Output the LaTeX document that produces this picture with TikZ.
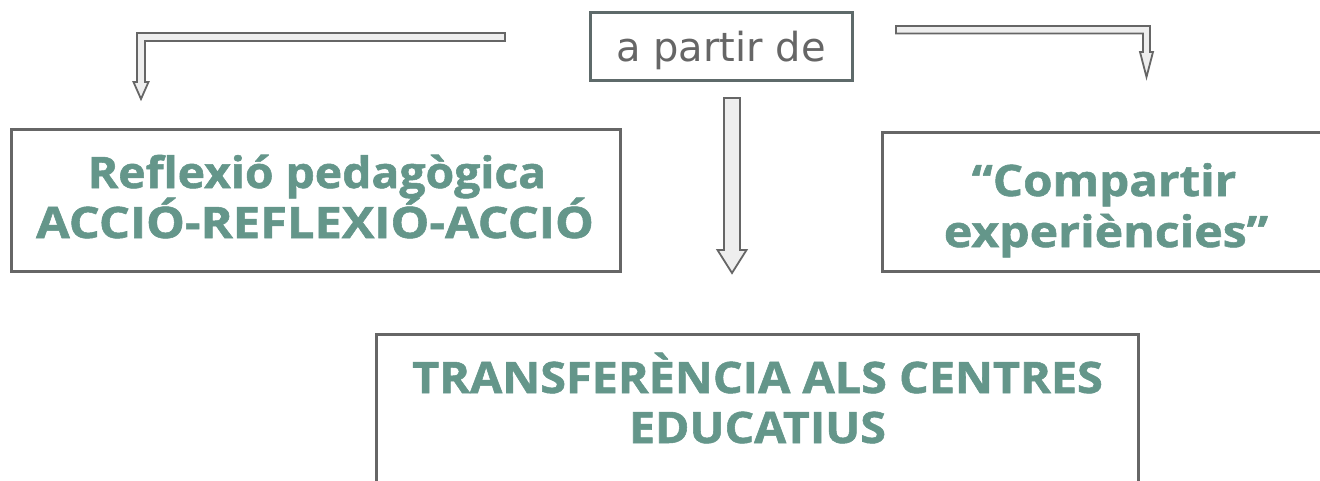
\documentclass[tikz,border=0pt]{standalone}
\usepackage{fontspec}
\newfontfamily\greenfont{Open Sans}[BoldFeatures={FakeBold=1.2}]
\newfontfamily\grayfont{DejaVu Sans}
\definecolor{boxgreen}{HTML}{64968A}
\definecolor{framegray}{HTML}{666666}
\definecolor{darkframe}{HTML}{5E6A6A}
\definecolor{labelgray}{HTML}{666666}
\definecolor{arrowgray}{HTML}{666666}
\definecolor{arrowfill}{HTML}{EEEEEE}
\newcommand{\wideline}[2]{\scalebox{#1}[1]{#2}}
\begin{document}
\begin{tikzpicture}[x=1pt,y=-1pt,
  frame/.style={draw=framegray, line width=3pt, fill=white, rectangle, inner sep=0pt},
  topframe/.style={draw=darkframe, line width=3pt, fill=white, rectangle, inner sep=0pt},
  gtext/.style={text=boxgreen, font=\greenfont\bfseries\fontsize{43.4}{50}\selectfont, inner sep=0pt, anchor=base},
  graytext/.style={text=labelgray, font=\grayfont\fontsize{40}{48}\selectfont, inner sep=0pt, anchor=base},
  blockarrow/.style={draw=arrowgray, fill=arrowfill, line width=1.8pt, line join=miter}]
\useasboundingbox (0,0) rectangle (1320,480);
\clip (0,0) rectangle (1320,480);
% boxes
\node[frame, minimum width=609pt, minimum height=142pt] (reflexio) at (315.5,200) {};
\node[frame, minimum width=448pt, minimum height=139pt] (compartir) at (1106,201.5) {};
\node[frame, minimum width=762pt, minimum height=226pt] (transf) at (757,447) {};
\node[topframe, minimum width=262pt, minimum height=68pt] (apartir) at (721,46) {};
% texts
\node[graytext] (aptext) at (721,61) {a partir de};
\node[gtext] (r1) at (317,188) {\wideline{1.066}{Reflexió pedagògica}};
\node[gtext] (r2) at (315,238) {\wideline{1.124}{ACCIÓ-REFLEXIÓ-ACCIÓ}};
\node[gtext] (c1) at (1104,196) {\wideline{1.095}{“Compartir}};
\node[gtext] (c2) at (1106,247) {\wideline{1.11}{experiències”}};
\node[gtext] (t1) at (757.5,393) {\wideline{1.077}{TRANSFERÈNCIA ALS CENTRES}};
\node[gtext] (t2) at (757.5,443) {\wideline{1.07}{EDUCATIUS}};
% block arrows
\draw[blockarrow] (724,98) -- (740,98) -- (740,250) -- (746.5,250) -- (732,273) -- (717.5,250) -- (724,250) -- cycle;
\draw[blockarrow] (505,33) -- (137,33) -- (137,82) -- (133.5,82) -- (141,99) -- (148.5,82) -- (145,82) -- (145,41) -- (505,41) -- cycle;
\draw[blockarrow] (896,26) -- (1150,26) -- (1150,52) -- (1153,52) -- (1146.5,77) -- (1140,52) -- (1143,52) -- (1143,33.5) -- (896,33.5) -- cycle;
\end{tikzpicture}
\end{document}
